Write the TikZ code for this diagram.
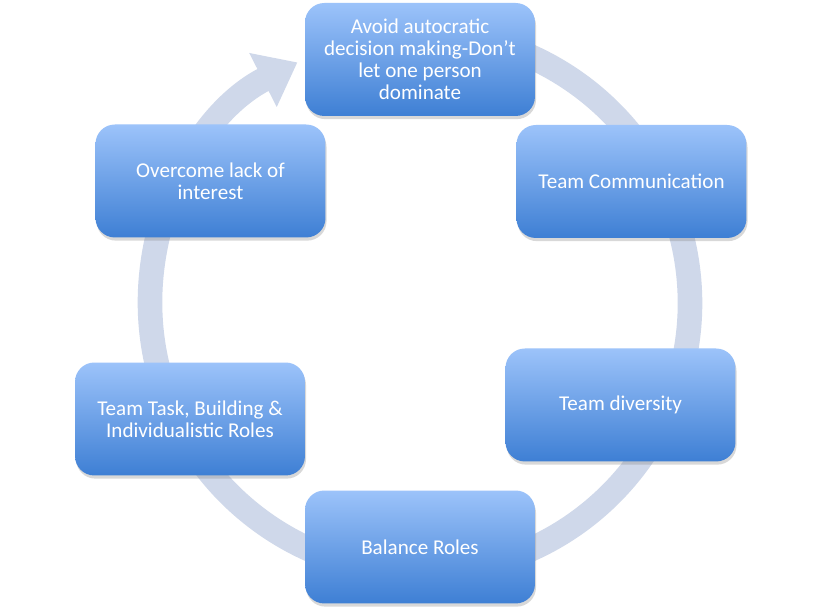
\documentclass[tikz,border=0pt]{standalone}
\usepackage{fontspec}
\setmainfont{Carlito}
\usepackage{tikz}
\usetikzlibrary{arrows.meta, shadows}
\definecolor{boxTop}{RGB}{156, 195, 250}
\definecolor{boxBot}{RGB}{62, 127, 212}
\definecolor{ringCol}{RGB}{207, 216, 234}

\begin{document}
\begin{tikzpicture}[x=0.02cm, y=0.02cm,
  stage/.style={rounded corners=11pt, top color=boxTop, bottom color=boxBot,
    minimum width=4.6cm, minimum height=2.26cm, align=center, text=white,
    font=\fontsize{12}{12.6}\selectfont,
    drop shadow={opacity=0.3, shadow xshift=0.6pt, shadow yshift=-1.8pt}}]
  \useasboundingbox (0,0) rectangle (840,611);
  \fill[white] (0,0) rectangle (840,611);
  % cycle ring behind the boxes
  \coordinate (hub) at (420,308);
  \draw[ringCol, line width=14pt, -{Triangle[length=22pt, width=33pt]}]
    (hub) ++(95:270) arc[start angle=95, end angle=-243, radius=270];
  % stages
  \node[stage] (avoid) at (420,551.5) {Avoid autocratic\\decision making-Don’t\\let one person\\dominate};
  \node[stage] (comm) at (631.5,429.5) {Team Communication};
  \node[stage] (divers) at (620.5,206) {Team diversity};
  \node[stage] (balance) at (420,64) {Balance Roles};
  \node[stage] (roles) at (190,192) {Team Task, Building \&\\Individualistic Roles};
  \node[stage] (interest) at (210.5,430) {Overcome lack of\\interest};
\end{tikzpicture}
\end{document}
